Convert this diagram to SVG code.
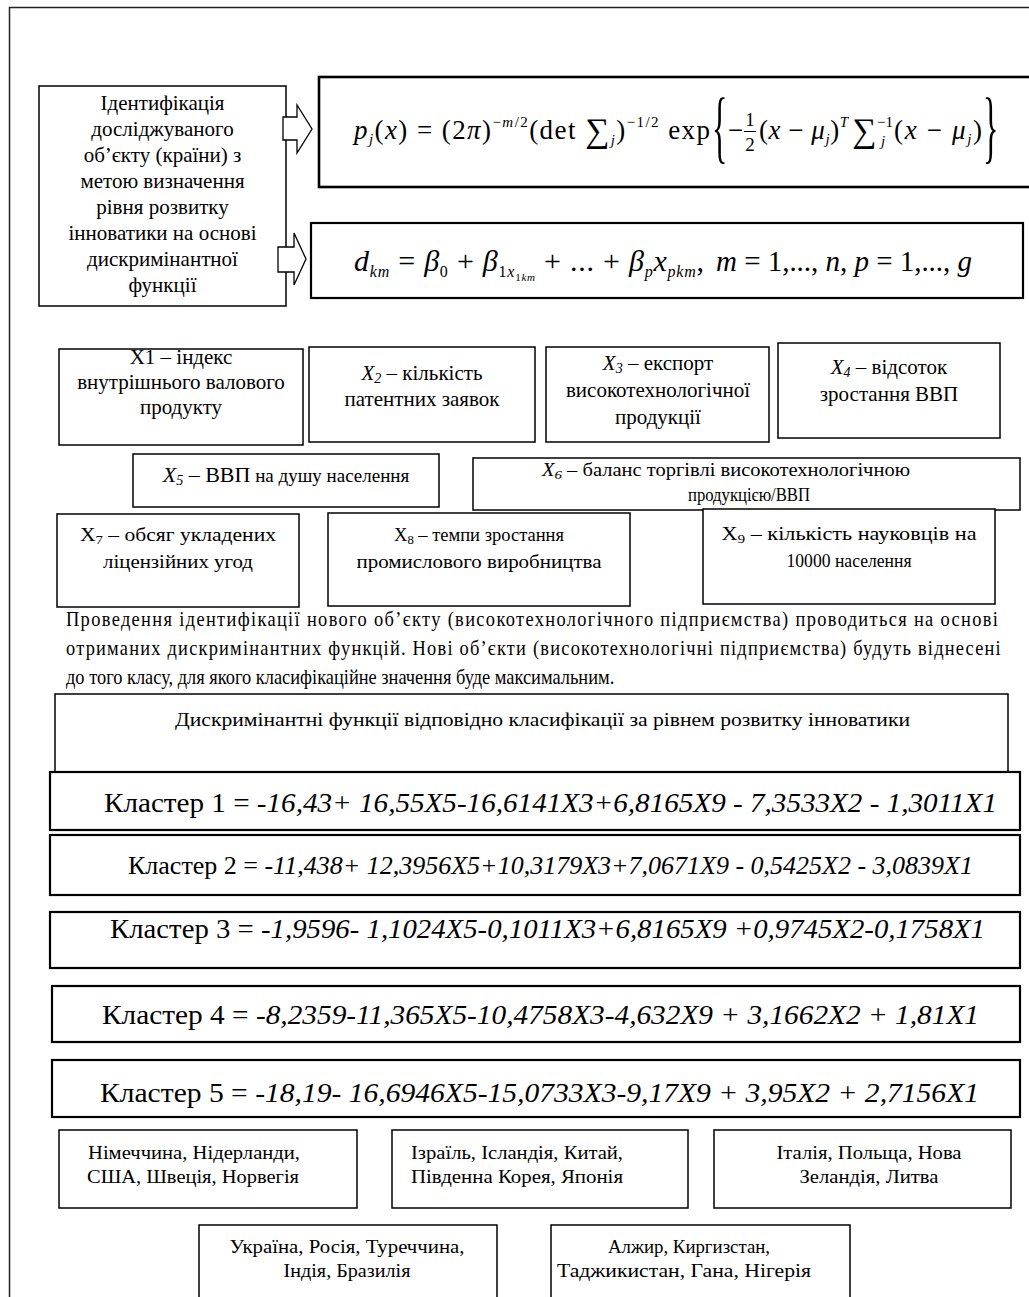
<svg xmlns="http://www.w3.org/2000/svg" width="1029" height="1297" viewBox="0 0 1029 1297">
<style>
.bx{fill:#fff;stroke:#000;stroke-width:1.5}
.bk{fill:#fff;stroke:#000;stroke-width:2.2}
.t{font-family:"Liberation Serif","Times New Roman",serif;fill:#000}
.c{text-anchor:middle}
.i{font-style:italic}
.ar{fill:#fff;stroke:#000;stroke-width:1.3}
.s20{font-size:21px}
.s19{font-size:19px}
.k{font-size:28px}
</style>
<rect width="1029" height="1297" fill="#fff"/>
<path d="M9.5,1297 V7.5 H1029" fill="none" stroke="#222" stroke-width="1.5"/>

<g id="n-ident">
<rect class="bx" x="39" y="86" width="247" height="220"/>
<text class="t c s20" x="162.5" y="110">Ідентифікація</text>
<text class="t c s20" x="162.5" y="136">досліджуваного</text>
<text class="t c s20" x="162.5" y="162">об’єкту (країни) з</text>
<text class="t c s20" x="162.5" y="188">метою визначення</text>
<text class="t c s20" x="162.5" y="214">рівня  розвитку</text>
<text class="t c s20" x="162.5" y="240">інноватики на основі</text>
<text class="t c s20" x="162.5" y="266">дискримінантної</text>
<text class="t c s20" x="162.5" y="292">функції</text>
</g>

<g id="connectors">
<path class="ar" d="M283,117 H297 V105 L312,129 L297,153 V140 H283 Z"/>
<path class="ar" d="M278,247 H294 V233 L306,259 L294,285 V272 H278 Z"/>
</g>

<g id="n-formula1">
<rect x="319" y="77" width="720" height="110" fill="#fff" stroke="#000" stroke-width="2.6"/>
<text class="t" x="354" y="139" font-size="27" textLength="356" lengthAdjust="spacing"><tspan class="i">p</tspan><tspan class="i" font-size="15" dy="5">j</tspan><tspan dy="-5">(</tspan><tspan class="i">x</tspan><tspan>) = (2</tspan><tspan class="i">π</tspan><tspan>)</tspan><tspan font-size="15" dy="-12">−</tspan><tspan class="i" font-size="15">m</tspan><tspan font-size="15">/2</tspan><tspan dy="12">(det </tspan><tspan font-size="34" dy="3">∑</tspan><tspan class="i" font-size="15" dy="3">j</tspan><tspan dy="-6">)</tspan><tspan font-size="15" dy="-12">−1/2</tspan><tspan dy="12"> exp</tspan></text>
<text class="t" font-size="32" transform="translate(712,153) scale(1,2.5)">{</text>
<text class="t" x="728" y="139" font-size="27">−</text>
<text class="t c" x="750" y="126" font-size="19">1</text>
<line x1="744" y1="131.5" x2="756" y2="131.5" stroke="#000" stroke-width="1"/>
<text class="t c" x="750" y="151" font-size="19">2</text>
<text class="t" x="759" y="139" font-size="27" textLength="89" lengthAdjust="spacing"><tspan>(</tspan><tspan class="i">x</tspan><tspan> − </tspan><tspan class="i">μ</tspan><tspan class="i" font-size="15" dy="5">j</tspan><tspan dy="-5">)</tspan><tspan class="i" font-size="15" dy="-12">T</tspan></text>
<text class="t" x="852" y="142" font-size="34">∑</text>
<text class="t" x="877" y="127" font-size="15">−1</text>
<text class="t i" x="881" y="146" font-size="15">j</text>
<text class="t" x="894" y="139" font-size="27" textLength="88" lengthAdjust="spacing"><tspan>(</tspan><tspan class="i">x</tspan><tspan> − </tspan><tspan class="i">μ</tspan><tspan class="i" font-size="15" dy="5">j</tspan><tspan dy="-5">)</tspan></text>
<text class="t" font-size="32" transform="translate(983,153) scale(1,2.5)">}</text>
</g>

<g id="n-formula2">
<rect class="bk" x="311" y="223" width="712" height="75"/>
<text class="t" x="354" y="271" font-size="30" textLength="350" lengthAdjust="spacing"><tspan class="i">d</tspan><tspan class="i" font-size="16" dy="6">km</tspan><tspan dy="-6"> = </tspan><tspan class="i">β</tspan><tspan font-size="16" dy="6">0</tspan><tspan dy="-6"> + </tspan><tspan class="i">β</tspan><tspan font-size="16" dy="6">1</tspan><tspan class="i" font-size="16">x</tspan><tspan font-size="11" dy="4">1</tspan><tspan class="i" font-size="11">km</tspan><tspan dy="-10"> + ... + </tspan><tspan class="i">β</tspan><tspan class="i" font-size="16" dy="6">p</tspan><tspan class="i" dy="-6">x</tspan><tspan class="i" font-size="16" dy="6">pkm</tspan><tspan dy="-6">,</tspan></text>
<text class="t" x="716" y="271" font-size="29" textLength="256" lengthAdjust="spacing"><tspan class="i">m</tspan><tspan> = 1,..., </tspan><tspan class="i">n</tspan><tspan>, </tspan><tspan class="i">p</tspan><tspan> = 1,..., </tspan><tspan class="i">g</tspan></text>
</g>

<g id="n-x1">
<rect class="bx" x="59" y="349" width="244" height="96"/>
<text class="t c s20" x="181" y="364">X1 – індекс</text>
<text class="t c s20" x="181" y="389">внутрішнього валового</text>
<text class="t c s20" x="181" y="414">продукту</text>
</g>
<g id="n-x2">
<rect class="bx" x="309" y="347" width="226" height="95"/>
<text class="t c s20" x="422" y="380"><tspan class="i">X</tspan><tspan class="i" font-size="14" dy="3">2</tspan><tspan dy="-3"> – кількість</tspan></text>
<text class="t c s20" x="422" y="406">патентних заявок</text>
</g>
<g id="n-x3">
<rect class="bx" x="546" y="347" width="223" height="95"/>
<text class="t c s20" x="658" y="370"><tspan class="i">X</tspan><tspan class="i" font-size="14" dy="3">3</tspan><tspan dy="-3"> – експорт</tspan></text>
<text class="t c s20" x="658" y="397">високотехнологічної</text>
<text class="t c s20" x="658" y="424">продукції</text>
</g>
<g id="n-x4">
<rect class="bx" x="778" y="343" width="222" height="95"/>
<text class="t c s20" x="889" y="374"><tspan class="i">X</tspan><tspan class="i" font-size="14" dy="3">4</tspan><tspan dy="-3"> – відсоток</tspan></text>
<text class="t c s20" x="889" y="401">зростання ВВП</text>
</g>
<g id="n-x5">
<rect class="bx" x="133" y="454" width="306" height="53"/>
<text class="t c" x="286" y="482" font-size="19"><tspan class="i" font-size="22">X</tspan><tspan class="i" font-size="14" dy="3">5</tspan><tspan dy="-3" font-size="22"> – ВВП</tspan><tspan> на душу населення</tspan></text>
</g>
<g id="n-x6">
<rect class="bx" x="473" y="458" width="547" height="52"/>
<text class="t" x="542" y="476" font-size="18" textLength="368" lengthAdjust="spacingAndGlyphs"><tspan class="i">X</tspan><tspan class="i" font-size="13" dy="3">6</tspan><tspan dy="-3"> – баланс торгівлі високотехнологічною</tspan></text>
<text class="t c" x="749" y="501" font-size="18" textLength="122" lengthAdjust="spacingAndGlyphs">продукцією/ВВП</text>
</g>
<g id="n-x7">
<rect class="bx" x="57" y="514" width="242" height="93"/>
<text class="t c s19" x="178" y="541" textLength="196" lengthAdjust="spacingAndGlyphs">X<tspan font-size="13" dy="3">7</tspan><tspan dy="-3"> – обсяг укладених</tspan></text>
<text class="t c s19" x="178" y="568" textLength="150" lengthAdjust="spacingAndGlyphs">ліцензійних угод</text>
</g>
<g id="n-x8">
<rect class="bx" x="328" y="513" width="302" height="93"/>
<text class="t c s19" x="479" y="541" textLength="170" lengthAdjust="spacingAndGlyphs">X<tspan font-size="13" dy="3">8</tspan><tspan dy="-3"> – темпи зростання</tspan></text>
<text class="t c s19" x="479" y="568" textLength="245" lengthAdjust="spacingAndGlyphs">промислового виробництва</text>
</g>
<g id="n-x9">
<rect class="bx" x="703" y="509" width="292" height="95"/>
<text class="t c s19" x="849" y="540" textLength="255" lengthAdjust="spacingAndGlyphs">X<tspan font-size="13" dy="3">9</tspan><tspan dy="-3"> – кількість науковців на</tspan></text>
<text class="t c s19" x="849" y="567" textLength="125" lengthAdjust="spacingAndGlyphs">10000 населення</text>
</g>

<g id="n-text" transform="translate(66,0) scale(0.92,1)">
<text class="t" x="0" y="626" font-size="20" textLength="1013" lengthAdjust="spacing">Проведення ідентифікації нового об’єкту (високотехнологічного підприємства) проводиться на основі</text>
<text class="t" x="0" y="655" font-size="20" textLength="1016" lengthAdjust="spacing">отриманих дискримінантних функцій. Нові об’єкти (високотехнологічні підприємства) будуть віднесені</text>
<text class="t" x="0" y="684" font-size="20">до того класу, для якого класифікаційне значення буде максимальним.</text>
</g>

<g id="n-header">
<rect class="bx" x="55" y="694" width="953" height="78"/>
<text class="t" x="175" y="726" font-size="18" textLength="735" lengthAdjust="spacingAndGlyphs">Дискримінантні функції відповідно класифікації за рівнем розвитку інноватики</text>
</g>
<g id="n-k1">
<rect class="bk" x="50" y="772" width="970" height="58"/>
<text class="t k" x="104" y="812" textLength="893" lengthAdjust="spacingAndGlyphs">Кластер 1 = <tspan class="i">-16,43+ 16,55X5-16,6141X3+6,8165X9 - 7,3533X2 - 1,3011X1</tspan></text>
</g>
<g id="n-k2">
<rect class="bk" x="50" y="835" width="970" height="60"/>
<text class="t" x="128" y="874" font-size="25" textLength="845" lengthAdjust="spacingAndGlyphs">Кластер 2 = <tspan class="i">-11,438+ 12,3956X5+10,3179X3+7,0671X9 - 0,5425X2 - 3,0839X1</tspan></text>
</g>
<g id="n-k3">
<rect class="bk" x="50" y="912" width="970" height="56"/>
<text class="t k" x="110" y="938" textLength="875" lengthAdjust="spacingAndGlyphs">Кластер 3 = <tspan class="i">-1,9596- 1,1024X5-0,1011X3+6,8165X9 +0,9745X2-0,1758X1</tspan></text>
</g>
<g id="n-k4">
<rect class="bk" x="52" y="986" width="968" height="56"/>
<text class="t k" x="102" y="1024" textLength="877" lengthAdjust="spacingAndGlyphs">Кластер 4 = <tspan class="i">-8,2359-11,365X5-10,4758X3-4,632X9 + 3,1662X2 + 1,81X1</tspan></text>
</g>
<g id="n-k5">
<rect class="bk" x="52" y="1060" width="968" height="57"/>
<text class="t k" x="100" y="1102" textLength="879" lengthAdjust="spacingAndGlyphs">Кластер 5 = <tspan class="i">-18,19- 16,6946X5-15,0733X3-9,17X9 + 3,95X2 + 2,7156X1</tspan></text>
</g>

<g id="n-c1">
<rect class="bx" x="59" y="1130" width="298" height="78"/>
<text class="t s19" x="88" y="1159" textLength="212" lengthAdjust="spacingAndGlyphs">Німеччина, Нідерланди,</text>
<text class="t s19" x="87" y="1183" textLength="212" lengthAdjust="spacingAndGlyphs">США, Швеція, Норвегія</text>
</g>
<g id="n-c2">
<rect class="bx" x="392" y="1130" width="296" height="78"/>
<text class="t s19" x="411" y="1159" textLength="212" lengthAdjust="spacingAndGlyphs">Ізраїль, Ісландія, Китай,</text>
<text class="t s19" x="411" y="1183" textLength="212" lengthAdjust="spacingAndGlyphs">Південна Корея, Японія</text>
</g>
<g id="n-c3">
<rect class="bx" x="714" y="1130" width="297" height="78"/>
<text class="t c s19" x="869" y="1159" textLength="185" lengthAdjust="spacingAndGlyphs">Італія, Польща, Нова</text>
<text class="t c s19" x="869" y="1183" textLength="139" lengthAdjust="spacingAndGlyphs">Зеландія, Литва</text>
</g>
<g id="n-c4">
<rect class="bx" x="199" y="1225" width="298" height="85"/>
<text class="t c s19" x="347" y="1253" textLength="235" lengthAdjust="spacingAndGlyphs">Україна, Росія, Туреччина,</text>
<text class="t c s19" x="347" y="1277" textLength="127" lengthAdjust="spacingAndGlyphs">Індія, Бразилія</text>
</g>
<g id="n-c5">
<rect class="bx" x="551" y="1225" width="299" height="85"/>
<text class="t c s19" x="689" y="1253" textLength="162" lengthAdjust="spacingAndGlyphs">Алжир, Киргизстан,</text>
<text class="t c s19" x="684" y="1277" textLength="254" lengthAdjust="spacingAndGlyphs">Таджикистан, Гана, Нігерія</text>
</g>
</svg>
